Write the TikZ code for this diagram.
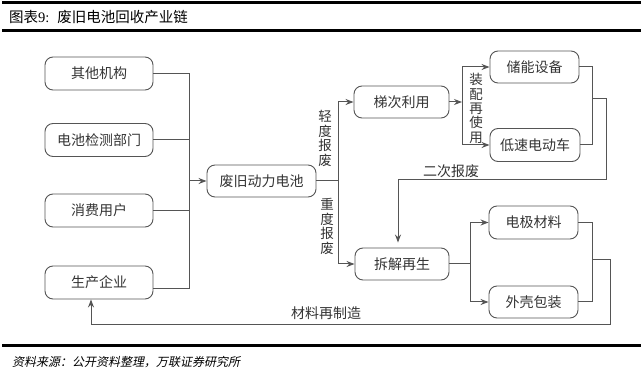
\documentclass[tikz,border=0pt]{standalone}
\usepackage{fontspec}
\setmainfont{Liberation Serif}
\newfontfamily\cjk{Noto Sans CJK SC}
\newfontfamily\cjkit{Noto Sans CJK SC}[FakeSlant=0.2]
\usetikzlibrary{arrows.meta}
\definecolor{ln}{HTML}{555555}
\definecolor{tx}{HTML}{333333}
\begin{document}
\begin{tikzpicture}[x=1pt,y=-1pt,
 box/.style={draw=ln, line width=0.9pt, rounded corners=8pt, text=tx, font=\cjk\fontsize{14}{15}\selectfont, inner sep=0pt},
 wire/.style={draw=ln, line width=1pt},
 arr/.style={wire, -{Stealth[length=8pt,width=6pt]}},
 vlab/.style={text=tx, font=\cjk\fontsize{13.5}{14.4}\selectfont, align=center, inner sep=0pt},
 lab/.style={text=tx, font=\cjk\fontsize{14}{15}\selectfont, inner sep=0pt},
 rule/.style={draw=black, line width=3pt}]
\useasboundingbox (0,0) rectangle (641,374);
% header and footer
\draw[rule] (2,3) -- (641,3);
\draw[rule] (2,30.5) -- (641,30.5);
\draw[rule] (2,345.5) -- (641,345.5);
\node[anchor=west, inner sep=0pt] (title) at (9,17)
  {\cjk\fontsize{14.5}{16}\selectfont 图表\rmfamily\fontsize{14.5}{16}\selectfont 9:\hspace{8pt}\cjk\fontsize{14.5}{16}\selectfont 废旧电池回收产业链};
\node[anchor=west, inner sep=0pt, font=\cjkit\fontsize{12}{13}\selectfont] (src) at (12,362)
  {资料来源：公开资料整理，万联证券研究所};
% nodes
\node[box, minimum width=108, minimum height=33] (qt) at (99,73.5) {其他机构};
\node[box, minimum width=108, minimum height=33] (jc) at (99,140) {电池检测部门};
\node[box, minimum width=108, minimum height=33] (xf) at (99,210.5) {消费用户};
\node[box, minimum width=108, minimum height=33] (sc) at (99,282.5) {生产企业};
\node[box, minimum width=109, minimum height=32] (fj) at (261.5,181) {废旧动力电池};
\node[box, minimum width=95, minimum height=32] (td) at (401.5,102) {梯次利用};
\node[box, minimum width=94, minimum height=32] (cj) at (402,264) {拆解再生};
\node[box, minimum width=89, minimum height=32] (cn) at (534.5,67) {储能设备};
\node[box, minimum width=90, minimum height=33] (ds) at (535,145) {低速电动车};
\node[box, minimum width=89, minimum height=33] (dj) at (533.5,222.5) {电极材料};
\node[box, minimum width=89, minimum height=32] (wk) at (533.5,302) {外壳包装};
% labels
\node[vlab] (l1) at (325,138.5) {轻\\度\\报\\废};
\node[vlab] (l2) at (327,226.5) {重\\度\\报\\废};
\node[vlab] (l3) at (476,108.5) {装\\配\\再\\使\\用};
\node[lab] (l4) at (451,171) {二次报废};
\node[lab] (l5) at (326,312.7) {材料再制造};
% coordinates
\coordinate (busL) at (189,0);
\coordinate (busM) at (338,0);
\coordinate (busT) at (462,0);
\coordinate (rt1) at (592,0);
\coordinate (jn1) at (592,98.3);
\coordinate (rt2) at (606,179.3);
\coordinate (dn) at (398,0);
\coordinate (bj) at (470.7,0);
\coordinate (jn2) at (592,260);
\coordinate (rb2) at (610.7,325);
\coordinate (up) at (91,0);
% connectors
\draw[wire] (qt.east) -- (qt.east -| busL) -- ([yshift=-6.5]sc.east -| busL) -- ([yshift=-6.5]sc.east);
\draw[wire] (jc.east) -- (jc.east -| busL);
\draw[wire] (xf.east) -- (xf.east -| busL);
\draw[arr] (fj.west -| busL) -- (fj.west);
\draw[wire] (fj.east) -- (fj.east -| busM);
\draw[arr] (fj.east -| busM) |- (td.west);
\draw[arr] (fj.east -| busM) |- (cj.west);
\draw[arr] (td.east) -- (td.east -| busT);
\draw[arr] (td.east -| busT) |- (cn.west);
\draw[arr] (td.east -| busT) |- (ds.west);
\draw[wire] (cn.east) -- (cn.east -| rt1) -- (ds.east -| rt1) -- (ds.east);
\draw[arr, shorten >=5pt] (jn1) -| (rt2) -| (dn |- cj.north);
\draw[wire] (cj.east) -- (cj.east -| bj);
\draw[arr] (cj.east -| bj) |- (dj.west);
\draw[arr] (cj.east -| bj) |- (wk.west);
\draw[wire] (dj.east) -- (dj.east -| rt1) -- (wk.east -| rt1) -- (wk.east);
\draw[arr] (jn2) -| (rb2) -| (up |- sc.south);
\end{tikzpicture}
\end{document}
